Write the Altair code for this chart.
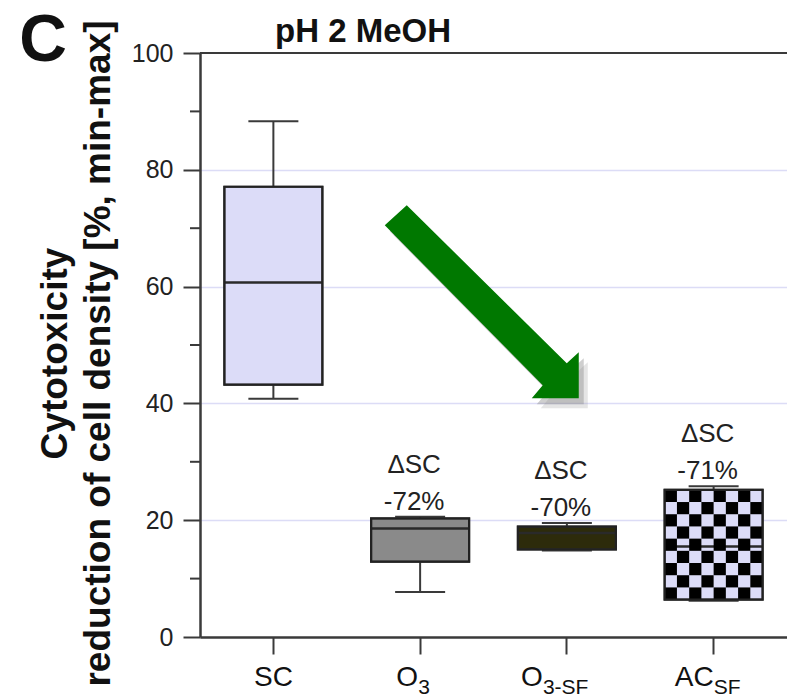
import altair as alt
import pandas as pd

# ---------------- data ----------------
categories = ["SC", "O3", "O3-SF", "ACSF"]
label_main = ["SC", "O", "O", "AC"]
label_sub = ["", "3", "3-SF", "SF"]

whisker_low = [40.8, 7.7, 14.8, 6.2]
q1 = [43.2, 12.9, 15.0, 6.4]
median = [60.7, 18.6, 17.8, 15.5]
q3 = [77.1, 20.3, 18.9, 25.2]
whisker_high = [88.3, 20.6, 19.5, 25.8]

delta_categories = ["O3", "O3-SF", "ACSF"]
delta_line1 = ["\u0394SC", "\u0394SC", "\u0394SC"]
delta_line2 = ["-72%", "-70%", "-71%"]
delta_anchor = [20.6, 19.5, 25.8]

y_major_ticks = [0, 20, 40, 60, 80, 100]
y_minor_ticks = [10, 30, 50, 70, 90]
top_border = [100]

panel_label = ["C"]
panel_title = ["pH 2 MeOH"]
y_title = ["Cytotoxicity", "reduction of cell density [%, min-max]"]

checker_category = "ACSF"
checker_rows = 9
checker_cols = 8

# arrow annotation position (x in category units 0..4, y in data units)
arrow_x = [1.92]
arrow_y = [57.4]

# ---------------- styles ----------------
FONT = "Liberation Sans"
AX = "#3a3a3a"
box_fill = ["#dcdcf8", "#8a8a8a", "#2d2b0b", "#dcdcf8"]
W, H = 587, 584
BAND = W / len(categories)
BOX_W = 98
# px position of each label's anchor (right edge of main text) from band start
label_shift = [BAND / 2 + 19.5, BAND / 2 - 2, BAND / 2 - 24, BAND / 2]

box_df = pd.DataFrame({
    "cat": categories, "lo": whisker_low, "q1": q1, "med": median,
    "q3": q3, "hi": whisker_high, "fill": box_fill,
})

lab_df = pd.DataFrame({"cat": categories, "main": label_main, "sub": label_sub,
                       "shift": label_shift})

delta_df = pd.DataFrame({"cat": delta_categories, "l1": delta_line1,
                         "l2": delta_line2, "v": delta_anchor})

# checker cells (pattern of the AC_SF box)
i_ac = categories.index(checker_category)
cells = []
step = (q3[i_ac] - q1[i_ac]) / checker_rows
for r in range(checker_rows):
    for c in range(checker_cols):
        if (r + c) % 2 == 0:
            top = q3[i_ac] - r * step
            cells.append({"cat": checker_category, "col": c,
                          "y0": top - step, "y1": top})
cell_df = pd.DataFrame(cells)
# offset slots across one category band: 2 empty slots on each side of the box
offset_slots = list(range(-2, checker_cols + 2))

x_scale = alt.Scale(domain=categories, paddingInner=0, paddingOuter=0)
y_scale = alt.Scale(domain=[0, 100], nice=False, zero=True)

y_axis = alt.Axis(
    title=y_title, values=y_major_ticks,
    tickSize=17, tickWidth=2, tickColor=AX, domainColor=AX, domainWidth=2.5,
    labelFont=FONT, labelFontSize=25, labelColor="#222222", labelPadding=10,
    grid=True,
    gridColor="#dcdcf6", gridWidth=1.6,
    gridOpacity={"condition": {"test": "datum.value > 0 && datum.value < 100", "value": 1}, "value": 0},
    titleFont=FONT, titleFontSize=37, titleFontWeight="bold", titleColor="#111111",
    titleAngle=270, titleAlign="center", titleBaseline="alphabetic",
    titleX=-134, titleY=300, titleLineHeight=43,
)

x_axis = alt.Axis(title=None, labels=False, ticks=True, tickSize=17, tickWidth=2,
                  tickColor=AX, domainColor=AX, domainWidth=2.5, grid=False)


def X():
    return alt.X("cat:N", sort=categories, scale=x_scale, axis=x_axis, title=None)


def Y(field):
    return alt.Y(field, scale=y_scale, axis=y_axis)


base = alt.Chart(box_df)

whisk_lo = base.mark_rule(color=AX, strokeWidth=2).encode(
    x=X(), y=Y("lo:Q"), y2="q1:Q")
whisk_hi = base.mark_rule(color=AX, strokeWidth=2).encode(
    x=X(), y=Y("q3:Q"), y2="hi:Q")
cap_lo = base.mark_tick(color=AX, size=50, thickness=2, opacity=1).encode(x=X(), y=Y("lo:Q"))
cap_hi = base.mark_tick(color=AX, size=50, thickness=2, opacity=1).encode(x=X(), y=Y("hi:Q"))

boxes = base.mark_bar(size=BOX_W, stroke=AX, strokeWidth=2, opacity=1).encode(
    x=X(), y=Y("q1:Q"), y2="q3:Q", color=alt.Color("fill:N", scale=None))
med = base.mark_tick(color="#2a2a2a", size=BOX_W, thickness=2.5, opacity=1).encode(
    x=X(), y=Y("med:Q"))

checker = alt.Chart(cell_df).mark_rect(color="#000000").encode(
    x=X(),
    xOffset=alt.XOffset("col:O", scale=alt.Scale(domain=offset_slots,
                                                 paddingInner=0, paddingOuter=0)),
    y=Y("y0:Q"), y2="y1:Q")

outline = base.mark_bar(size=BOX_W, fillOpacity=0, stroke="#222222", strokeWidth=2.2).encode(
    x=X(), y=Y("q1:Q"), y2="q3:Q")

top_rule = alt.Chart(pd.DataFrame({"v": top_border})).mark_rule(
    color=AX, strokeWidth=2.2).encode(y=Y("v:Q"))

minor = alt.Chart(pd.DataFrame({"v": y_minor_ticks})).mark_rule(
    color=AX, strokeWidth=2).encode(y=Y("v:Q"), x=alt.value(-10), x2=alt.value(0))

d1 = alt.Chart(delta_df).mark_text(font=FONT, fontSize=26, color="#222222",
                                   baseline="alphabetic", dy=-44, dx=-6).encode(
    x=X(), y=Y("v:Q"), text="l1:N")
d2 = alt.Chart(delta_df).mark_text(font=FONT, fontSize=26, color="#222222",
                                   baseline="alphabetic", dy=-7, dx=-6).encode(
    x=X(), y=Y("v:Q"), text="l2:N")

lab_main = alt.Chart(lab_df).mark_text(font=FONT, fontSize=28, color="#111111",
                                       align="right", baseline="alphabetic").encode(
    x=X(), xOffset=alt.XOffset("shift:Q", scale=None),
    y=alt.value(633), text="main:N")
lab_sub = alt.Chart(lab_df).mark_text(font=FONT, fontSize=21, color="#111111",
                                      align="left", baseline="alphabetic").encode(
    x=X(), xOffset=alt.XOffset("shift:Q", scale=None),
    y=alt.value(641), text="sub:N")

title_txt = alt.Chart(pd.DataFrame({"t": panel_title})).mark_text(
    font=FONT, fontSize=33, fontWeight="bold", color="#111111",
    align="center", baseline="alphabetic").encode(
    x=alt.value(163), y=alt.value(-11), text="t:N")
panel_txt = alt.Chart(pd.DataFrame({"t": panel_label})).mark_text(
    font=FONT, fontSize=66, fontWeight="bold", color="#111111",
    align="center", baseline="alphabetic").encode(
    x=alt.value(-157), y=alt.value(8), text="t:N")

inner = alt.layer(top_rule, minor, whisk_lo, whisk_hi, cap_lo, cap_hi, boxes, med,
                  checker, outline, d1, d2, lab_main, lab_sub, title_txt, panel_txt)

# arrow as a custom symbol (local shape, scaled so that +-1 == +-100 px)
ARROW = ("M -0.75 -0.965 L -0.97 -0.765 L 0.61 0.835 L 0.50 0.965 "
         "L 0.97 0.965 L 0.97 0.505 L 0.85 0.615 Z")
arrow_df = pd.DataFrame({"ax": arrow_x, "ay": arrow_y})
ax_enc = alt.X("ax:Q", scale=alt.Scale(domain=[0, 4], nice=False, zero=False), axis=None)
arrow_base = alt.Chart(arrow_df)
shadow1 = arrow_base.mark_point(shape=ARROW, size=40000, filled=True, color="#999999",
                                opacity=0.25, strokeWidth=0, xOffset=9, yOffset=10).encode(
    x=ax_enc, y=Y("ay:Q"))
shadow2 = arrow_base.mark_point(shape=ARROW, size=40000, filled=True, color="#888888",
                                opacity=0.4, strokeWidth=0, xOffset=5, yOffset=6).encode(
    x=ax_enc, y=Y("ay:Q"))
arrow = arrow_base.mark_point(shape=ARROW, size=40000, filled=True, color="#007800",
                              opacity=1, strokeWidth=0).encode(
    x=ax_enc, y=Y("ay:Q"))

chart = alt.layer(inner, shadow1, shadow2, arrow).resolve_scale(x="independent").properties(
    width=W, height=H,
    autosize=alt.AutoSizeParams(type="none"),
    padding={"left": 200, "top": 53, "right": 0, "bottom": 60},
    background="white",
).configure_view(stroke=None)

chart.save("out.html", embed_options={"renderer": "svg", "actions": False})
